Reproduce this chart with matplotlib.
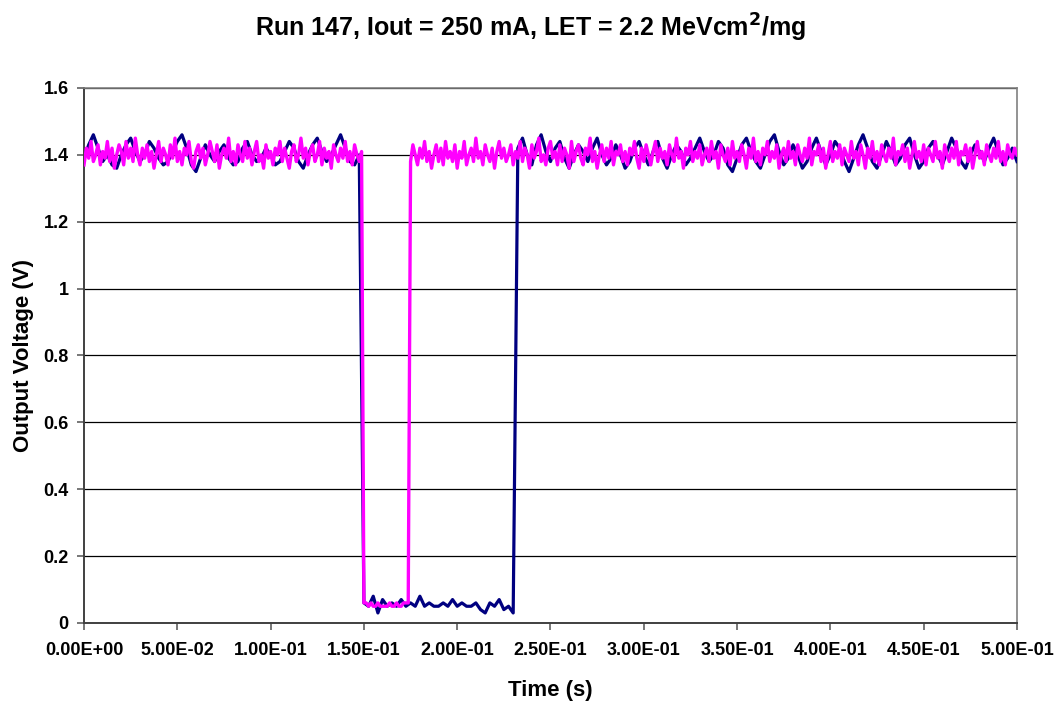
import numpy as np
import matplotlib
matplotlib.use("Agg")
import matplotlib.pyplot as plt
from matplotlib.ticker import FuncFormatter, MultipleLocator

plt.rcParams['font.family'] = ['Liberation Sans', 'DejaVu Sans']
plt.rcParams['font.weight'] = 'bold'
plt.rcParams['mathtext.default'] = 'bf'

# sample interval of each trace (s)
navy_dt = 0.0025
pink_dt = 0.00125

# navy trace: high, dropout 0.150 - 0.232 s, high again
navy_v = [
    1.39, 1.43, 1.46, 1.42, 1.38, 1.40, 1.37, 1.36, 1.40, 1.43,
    1.45, 1.41, 1.38, 1.40, 1.44, 1.42, 1.39, 1.37, 1.38, 1.41,
    1.44, 1.46, 1.42, 1.37, 1.35, 1.39, 1.43, 1.40, 1.38, 1.41,
    1.43, 1.39, 1.37, 1.38, 1.42, 1.44, 1.40, 1.38, 1.39, 1.42,
    1.40, 1.37, 1.38, 1.41, 1.44, 1.42, 1.38, 1.36, 1.40, 1.43,
    1.45, 1.41, 1.38, 1.40, 1.43, 1.46, 1.42, 1.38, 1.37, 1.40,
    # low
    0.06, 0.05, 0.08, 0.03, 0.07, 0.05, 0.06, 0.05, 0.07, 0.05,
    0.06, 0.05, 0.08, 0.05, 0.06, 0.05, 0.05, 0.06, 0.05, 0.07,
    0.05, 0.06, 0.05, 0.05, 0.06, 0.04, 0.03, 0.06, 0.05, 0.07,
    0.04, 0.05, 0.03,
    # recovered
    1.42, 1.45, 1.40, 1.37, 1.43, 1.46, 1.41, 1.38, 1.42, 1.44,
    1.39, 1.36, 1.40, 1.43, 1.41, 1.38, 1.42, 1.45, 1.40, 1.37,
    1.39, 1.43, 1.40, 1.36, 1.38, 1.42, 1.44, 1.40, 1.37, 1.41,
    1.44, 1.39, 1.36, 1.40, 1.43, 1.41, 1.37, 1.39, 1.42, 1.45,
    1.41, 1.38, 1.40, 1.44, 1.42, 1.37, 1.35, 1.39, 1.43, 1.45,
    1.41, 1.38, 1.36, 1.40, 1.44, 1.46, 1.41, 1.37, 1.39, 1.43,
    1.40, 1.36, 1.38, 1.42, 1.45, 1.41, 1.37, 1.40, 1.44, 1.42,
    1.38, 1.35, 1.39, 1.43, 1.46, 1.42, 1.38, 1.36, 1.40, 1.44,
    1.41, 1.37, 1.39, 1.43, 1.45, 1.40, 1.36, 1.38, 1.42, 1.44,
    1.40, 1.37, 1.41, 1.45, 1.42, 1.38, 1.36, 1.40, 1.43, 1.41,
    1.38, 1.42, 1.45, 1.41, 1.37, 1.39, 1.42, 1.38,
]

# magenta trace: high, dropout 0.150 - 0.175 s, high again
pink_v = [
    1.37, 1.42, 1.39, 1.44, 1.38, 1.40, 1.43, 1.37, 1.41, 1.39,
    1.44, 1.38, 1.42, 1.36, 1.40, 1.43, 1.41, 1.37, 1.44, 1.39,
    1.42, 1.38, 1.45, 1.40, 1.37, 1.42, 1.39, 1.43, 1.38, 1.41,
    1.36, 1.40, 1.44, 1.38, 1.42, 1.40, 1.37, 1.43, 1.39, 1.45,
    1.38, 1.41, 1.37, 1.42, 1.40, 1.44, 1.38, 1.36, 1.41, 1.43,
    1.39, 1.42, 1.37, 1.40, 1.44, 1.41, 1.38, 1.43, 1.36, 1.40,
    1.42, 1.39, 1.45, 1.38, 1.41, 1.37, 1.43, 1.40, 1.38, 1.44,
    1.39, 1.42, 1.37, 1.41, 1.44, 1.38, 1.40, 1.36, 1.43, 1.39,
    1.41, 1.37, 1.42, 1.40, 1.44, 1.38, 1.42, 1.39, 1.36, 1.41,
    1.43, 1.38, 1.40, 1.45, 1.39, 1.42, 1.37, 1.41, 1.43, 1.38,
    1.40, 1.44, 1.37, 1.42, 1.39, 1.41, 1.36, 1.43, 1.40, 1.38,
    1.42, 1.39, 1.44, 1.38, 1.41, 1.37, 1.43, 1.40, 1.38, 1.41,
    # low
    0.06, 0.06, 0.05, 0.06, 0.05, 0.05, 0.06, 0.05, 0.05, 0.05,
    0.05, 0.06, 0.05, 0.05, 0.06, 0.05, 0.05, 0.06, 0.06, 0.06,
    # recovered
    1.38, 1.43, 1.40, 1.37, 1.42, 1.39, 1.44, 1.38, 1.41, 1.36,
    1.40, 1.43, 1.38, 1.42, 1.37, 1.44, 1.39, 1.41, 1.38, 1.43,
    1.36, 1.41, 1.39, 1.44, 1.37, 1.40, 1.42, 1.38, 1.45, 1.39,
    1.41, 1.37, 1.43, 1.40, 1.38, 1.42, 1.36, 1.41, 1.44, 1.39,
    1.42, 1.38, 1.40, 1.43, 1.37, 1.41, 1.39, 1.44, 1.38, 1.42,
    1.40, 1.36, 1.43, 1.39, 1.41, 1.45, 1.38, 1.40, 1.37, 1.42,
    1.44, 1.39, 1.41, 1.37, 1.43, 1.38, 1.42, 1.40, 1.36, 1.44,
    1.38, 1.41, 1.43, 1.39, 1.37, 1.42, 1.40, 1.45, 1.38, 1.41,
    1.36, 1.40, 1.43, 1.38, 1.42, 1.39, 1.44, 1.37, 1.41, 1.40,
    1.43, 1.38, 1.41, 1.37, 1.42, 1.40, 1.44, 1.39, 1.36, 1.42,
    1.38, 1.43, 1.40, 1.37, 1.41, 1.44, 1.38, 1.42, 1.39, 1.41,
    1.37, 1.43, 1.40, 1.38, 1.45, 1.39, 1.41, 1.36, 1.42, 1.40,
    1.44, 1.38, 1.41, 1.39, 1.43, 1.37, 1.40, 1.42, 1.38, 1.44,
    1.39, 1.41, 1.36, 1.43, 1.40, 1.38, 1.42, 1.37, 1.44, 1.39,
    1.41, 1.38, 1.43, 1.40, 1.36, 1.42, 1.39, 1.45, 1.38, 1.41,
    1.37, 1.42, 1.40, 1.44, 1.38, 1.41, 1.39, 1.43, 1.36, 1.40,
    1.42, 1.38, 1.44, 1.39, 1.41, 1.37, 1.43, 1.40, 1.38, 1.42,
    1.39, 1.45, 1.37, 1.41, 1.40, 1.43, 1.38, 1.42, 1.36, 1.40,
    1.44, 1.38, 1.41, 1.39, 1.43, 1.37, 1.42, 1.40, 1.38, 1.44,
    1.39, 1.41, 1.37, 1.43, 1.40, 1.36, 1.42, 1.39, 1.44, 1.38,
    1.41, 1.37, 1.43, 1.40, 1.38, 1.42, 1.39, 1.45, 1.37, 1.41,
    1.40, 1.43, 1.38, 1.42, 1.36, 1.40, 1.44, 1.39, 1.41, 1.38,
    1.43, 1.37, 1.42, 1.40, 1.38, 1.44, 1.39, 1.41, 1.36, 1.43,
    1.40, 1.38, 1.42, 1.39, 1.44, 1.37, 1.41, 1.40, 1.43, 1.38,
    1.42, 1.36, 1.40, 1.44, 1.39, 1.41, 1.37, 1.43, 1.40, 1.38,
    1.42, 1.39, 1.44, 1.38, 1.41, 1.37, 1.43, 1.40, 1.39, 1.42,
    1.40,
]

navy_t = np.arange(len(navy_v)) * navy_dt
pink_t = np.arange(len(pink_v)) * pink_dt

fig = plt.figure(figsize=(10.61, 7.06), dpi=100)
ax = fig.add_axes([0.0792, 0.1176, 0.8793, 0.7578])

ax.plot(navy_t, navy_v, color='#000080', linewidth=2.3, zorder=3)
ax.plot(pink_t, pink_v, color='#FF00FF', linewidth=2.4, zorder=4)

ax.set_xlim(0, 0.5)
ax.set_ylim(0, 1.6)
ax.xaxis.set_major_locator(MultipleLocator(0.05))
ax.yaxis.set_major_locator(MultipleLocator(0.2))
ax.xaxis.set_major_formatter(FuncFormatter(lambda v, p: f"{v:.2E}"))
ax.yaxis.set_major_formatter(FuncFormatter(lambda v, p: f"{v:g}"))

ax.grid(axis='y', color='black', linewidth=0.9, zorder=1)
ax.set_axisbelow(True)
for side in ['top', 'right']:
    ax.spines[side].set_color('#808080')
    ax.spines[side].set_linewidth(1.2)
for side in ['left', 'bottom']:
    ax.spines[side].set_color('#404040')
    ax.spines[side].set_linewidth(1.4)
ax.tick_params(axis='both', direction='out', length=5, width=1.2, color='#606060',
               labelsize=13)
ax.tick_params(axis='x', pad=9)
ax.tick_params(axis='y', pad=6)

ax.set_xlabel("Time (s)", fontsize=16, fontweight='bold', labelpad=15)
ax.set_ylabel("Output Voltage (V)", fontsize=16, fontweight='bold', labelpad=7)
fig.text(0.50, 0.960, "Run 147, Iout = 250 mA, LET = 2.2 MeVcm$^{\\mathsf{2}}$/mg",
         ha='center', va='center', fontsize=18, fontweight='bold')

fig.savefig("out.png", dpi=100)
